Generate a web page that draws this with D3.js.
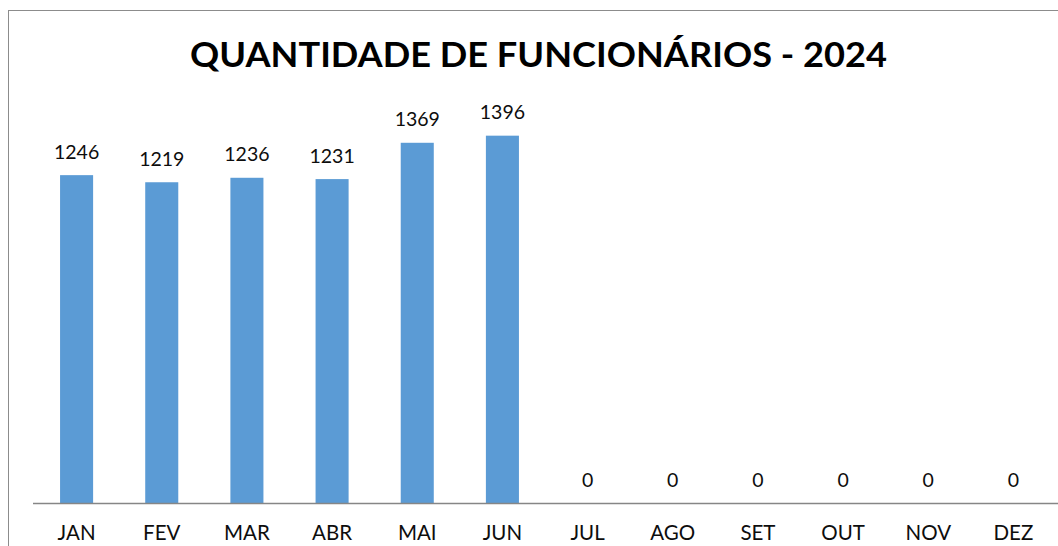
<!DOCTYPE html>
<html><head><meta charset="utf-8">
<script src="https://cdn.jsdelivr.net/npm/d3@7/dist/d3.min.js"></script>
<style>html,body{margin:0;padding:0;background:#fff;}svg{display:block;}</style>
</head><body>
<svg id="c" width="1058" height="546"></svg>
<script>
const titleText = "QUANTIDADE DE FUNCIONÁRIOS - 2024";
const months = ["JAN","FEV","MAR","ABR","MAI","JUN","JUL","AGO","SET","OUT","NOV","DEZ"];
const employees = [1246,1219,1236,1231,1369,1396,0,0,0,0,0,0];

const svg = d3.select("#c");
const font = "Lato, 'Open Sans', sans-serif";

// outer chart border
svg.append("rect").attr("x", 8.5).attr("y", 10.5).attr("width", 1080).attr("height", 600)
  .attr("fill", "#fff").attr("stroke", "#8c8c8c").attr("stroke-width", 1);

const x = d3.scaleBand().domain(months).range([34, 1056]).paddingInner(0.612).paddingOuter(0.306);
const y = d3.scaleLinear().domain([0, 1600]).range([503, 82]);

svg.append("g").selectAll("rect").data(employees).join("rect")
  .attr("x", (d,i) => x(months[i]))
  .attr("y", d => y(d))
  .attr("width", x.bandwidth())
  .attr("height", d => y(0) - y(d))
  .attr("fill", "#5B9BD5");

// baseline axis
const axis = d3.axisBottom(x).tickSize(0).tickPadding(0);
const ag = svg.append("g").attr("transform", `translate(0,${y(0)})`).call(axis);
ag.select(".domain").attr("stroke", "#868686").attr("stroke-width", 1.3).attr("d", "M33,0.5H1058");
ag.selectAll(".tick text").attr("dy", null).attr("y", 37)
  .attr("font-family", font).attr("font-size", 20.5).attr("fill", "#0d0d0d");

// value labels
svg.append("g").selectAll("text").data(employees).join("text")
  .attr("x", (d,i) => x(months[i]) + x.bandwidth()/2)
  .attr("y", d => y(d) - 16.5)
  .attr("text-anchor", "middle")
  .attr("font-family", font).attr("font-size", 19.5).attr("fill", "#0d0d0d")
  .text(d => d);

// title
const t = svg.append("text").attr("x", 538.5).attr("y", 67).attr("text-anchor", "middle")
  .attr("font-family", font).attr("font-weight", "bold").attr("font-size", 34).attr("fill", "#000")
  .text(titleText);
t.attr("textLength", 697).attr("lengthAdjust", "spacingAndGlyphs");
</script>
</body></html>
